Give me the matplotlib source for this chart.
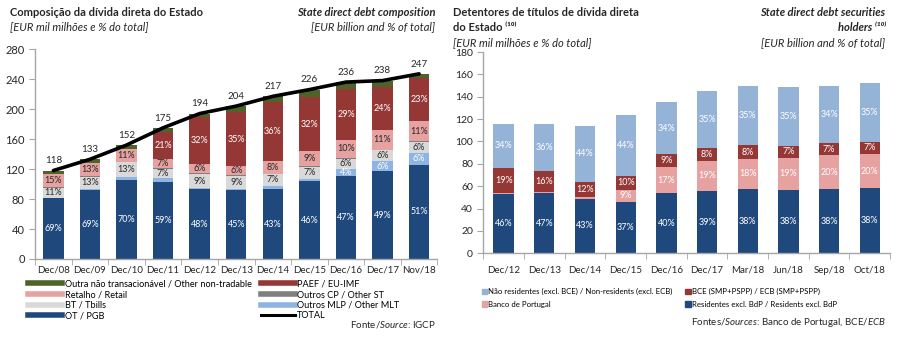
import numpy as np
import matplotlib.pyplot as plt
from matplotlib.lines import Line2D
from matplotlib.patches import Patch

plt.rcParams['font.family'] = ['Lato', 'DejaVu Sans']
plt.rcParams['mathtext.fontset'] = 'custom'
plt.rcParams['mathtext.rm'] = 'Lato'
plt.rcParams['mathtext.it'] = 'Lato:italic'

# --- state direct debt composition (EUR bn) ---
periods_l = ['Dec/08', 'Dec/09', 'Dec/10', 'Dec/11', 'Dec/12', 'Dec/13',
             'Dec/14', 'Dec/15', 'Dec/16', 'Dec/17', 'Nov/18']
ot_pgb = [81, 92, 106, 103, 93, 92, 93, 104, 111, 117, 126]
outros_mlp = [1, 1, 3, 5, 2, 1, 5, 3, 9, 14, 15]
bt_tbills = [13, 17, 20, 12, 18, 18, 15, 16, 14, 14, 15]
outros_cp = [1, 1, 1, 1, 2, 1, 1, 1, 1, 1, 1]
retalho = [18, 17, 17, 12, 12, 12, 17, 20, 24, 26, 27]
paef = [0, 0, 0, 37, 62, 72, 78, 72, 68, 57, 57]
outra_nt = [4, 5, 5, 5, 5, 8, 8, 10, 9, 9, 6]
total_l = [118, 133, 152, 175, 194, 204, 217, 226, 236, 238, 247]

# --- holders of state direct debt securities (EUR bn) ---
periods_r = ['Dec/12', 'Dec/13', 'Dec/14', 'Dec/15', 'Dec/16', 'Dec/17',
             'Mar/18', 'Jun/18', 'Sep/18', 'Oct/18']
residentes = [53, 54, 49, 46, 54, 56, 57.5, 57, 57.5, 58]
banco_portugal = [1, 1, 1, 11, 23, 27, 27, 28.5, 30, 31]
bce = [22, 19, 14, 12, 12, 11, 12, 10.5, 11, 10.5]
nao_residentes = [40, 42, 50, 55, 46, 51, 53, 52.5, 51.5, 53]

DARK = '#262626'
AXIS = '#a6a6a6'

fig = plt.figure(figsize=(9, 3.41), dpi=100)


def style_axes(ax, n):
    for s in ['top', 'right']:
        ax.spines[s].set_visible(False)
    for s in ['left', 'bottom']:
        ax.spines[s].set_color(AXIS)
        ax.spines[s].set_linewidth(1.0)
    ax.set_xlim(-0.5, n - 0.5)
    ax.set_xticks(np.arange(n))
    ax.set_xticks(np.arange(n + 1) - 0.5, minor=True)
    ax.tick_params(axis='x', which='major', length=0, pad=5, labelsize=7, colors=DARK)
    ax.tick_params(axis='x', which='minor', length=4, color=AXIS)
    ax.tick_params(axis='y', length=4, color=AXIS, labelsize=8, colors=DARK)


def stack(ax, x, series, width, tot, min_pct):
    bottom = np.zeros(len(x))
    for vals, color, txtcol, label in series:
        vals = np.array(vals, dtype=float)
        ax.bar(x, vals, width, bottom=bottom, color=color, edgecolor='none')
        if txtcol is not None:
            for i, v in enumerate(vals):
                pct = round(v / tot[i] * 100)
                if pct >= min_pct:
                    ax.text(x[i], bottom[i] + v / 2, f'{pct}%', ha='center', va='center',
                            fontsize=6.5, color=txtcol)
        bottom += vals
    return bottom


# left chart
axl = fig.add_axes([0.039, 0.2405, 0.447, 0.6155])
xl = np.arange(len(periods_l))
series_l = [
    (ot_pgb, '#1f497d', 'white', 'OT / PGB'),
    (outros_mlp, '#8db4e2', 'white', 'Outros MLP / Other MLT'),
    (bt_tbills, '#d9d9d9', DARK, 'BT / Tbills'),
    (outros_cp, '#7f7f7f', None, 'Outros CP / Other ST'),
    (retalho, '#e6a1a1', DARK, 'Retalho / Retail'),
    (paef, '#953735', 'white', 'PAEF / EU-IMF'),
    (outra_nt, '#4f6228', None, 'Outra não transacionável / Other non-tradable'),
]
tops = stack(axl, xl, series_l, 0.56, total_l, 4)
axl.plot(xl, total_l, color='black', lw=2.6, solid_capstyle='round', zorder=5)
for i, t in enumerate(total_l):
    axl.text(xl[i], max(tops[i], t) + 13, str(t), ha='center', va='center',
             fontsize=7, color=DARK)
axl.set_ylim(0, 280)
axl.set_yticks(np.arange(0, 281, 40))
axl.set_xticklabels(periods_l)
style_axes(axl, len(periods_l))

leg_l = [
    Line2D([], [], color='#4f6228', lw=4, label='Outra não transacionável / Other non-tradable'),
    Line2D([], [], color='#e6a1a1', lw=4, label='Retalho / Retail'),
    Line2D([], [], color='#d9d9d9', lw=4, label='BT / Tbills'),
    Line2D([], [], color='#1f497d', lw=4, label='OT / PGB'),
    Line2D([], [], color='#953735', lw=4, label='PAEF / EU-IMF'),
    Line2D([], [], color='#7f7f7f', lw=4, label='Outros CP / Other ST'),
    Line2D([], [], color='#8db4e2', lw=4, label='Outros MLP / Other MLT'),
    Line2D([], [], color='black', lw=2.2, label='TOTAL'),
]
fig.legend(handles=leg_l, ncol=2, loc='upper left', bbox_to_anchor=(0.031, 0.18),
           frameon=False, fontsize=6.6, handlelength=3.7, handletextpad=0.3,
           columnspacing=1.0, labelspacing=0.17, borderaxespad=0, borderpad=0)

fig.text(0.011, 0.962, 'Composição da dívida direta do Estado', fontsize=8,
         fontweight='bold', color=DARK, va='center')
fig.text(0.011, 0.921, '[EUR mil milhões e % do total]', fontsize=8,
         style='italic', color=DARK, va='center')
fig.text(0.484, 0.962, 'State direct debt composition', fontsize=8,
         fontweight='bold', style='italic', color=DARK, va='center', ha='right')
fig.text(0.484, 0.921, '[EUR billion and % of total]', fontsize=8,
         style='italic', color=DARK, va='center', ha='right')
fig.text(0.484, 0.047, r'Fonte/$\mathit{Source}$: IGCP', fontsize=7,
         color=DARK, ha='right', va='center')

# right chart
axr = fig.add_axes([0.537, 0.257, 0.452, 0.5905])
xr = np.arange(len(periods_r))
total_r = [a + b + c + d for a, b, c, d in zip(residentes, banco_portugal, bce, nao_residentes)]
series_r = [
    (residentes, '#1f497d', 'white', 'Residentes excl. BdP / Residents excl. BdP'),
    (banco_portugal, '#e6a1a1', 'white', 'Banco de Portugal'),
    (bce, '#953735', 'white', 'BCE (SMP+PSPP) / ECB (SMP+PSPP)'),
    (nao_residentes, '#95b3d7', 'white', 'Não residentes (excl. BCE) / Non-residents (excl. ECB)'),
]
stack(axr, xr, series_r, 0.5, total_r, 3)
axr.set_ylim(0, 180)
axr.set_yticks(np.arange(0, 181, 20))
axr.set_xticklabels(periods_r)
style_axes(axr, len(periods_r))
axr.tick_params(axis='x', which='major', pad=9)
axr.tick_params(axis='y', labelsize=7.5)

leg_r = [
    Patch(color='#95b3d7', label='Não residentes (excl. BCE) / Non-residents (excl. ECB)'),
    Patch(color='#e6a1a1', label='Banco de Portugal'),
    Patch(color='#953735', label='BCE (SMP+PSPP) / ECB (SMP+PSPP)'),
    Patch(color='#1f497d', label='Residentes excl. BdP / Residents excl. BdP'),
]
fig.legend(handles=leg_r, ncol=2, loc='upper left', bbox_to_anchor=(0.535, 0.155),
           frameon=False, fontsize=5.6, handlelength=0.7, handleheight=0.7,
           handletextpad=0.2, columnspacing=1.6, labelspacing=0.67,
           borderaxespad=0, borderpad=0)

fig.text(0.503, 0.962, 'Detentores de títulos de dívida direta', fontsize=8,
         fontweight='bold', color=DARK, va='center')
fig.text(0.503, 0.918, 'do Estado ⁽¹⁰⁾', fontsize=8,
         fontweight='bold', color=DARK, va='center')
fig.text(0.503, 0.874, '[EUR mil milhões e % do total]', fontsize=8,
         style='italic', color=DARK, va='center')
fig.text(0.984, 0.962, 'State direct debt securities', fontsize=8,
         fontweight='bold', style='italic', color=DARK, va='center', ha='right')
fig.text(0.984, 0.918, 'holders ⁽¹⁰⁾', fontsize=8,
         fontweight='bold', style='italic', color=DARK, va='center', ha='right')
fig.text(0.984, 0.874, '[EUR billion and % of total]', fontsize=8,
         style='italic', color=DARK, va='center', ha='right')
fig.text(0.984, 0.053, r'Fontes/$\mathit{Sources}$: Banco de Portugal, BCE/$\mathit{ECB}$',
         fontsize=7, color=DARK, ha='right', va='center')

fig.savefig('out.png', dpi=100)
